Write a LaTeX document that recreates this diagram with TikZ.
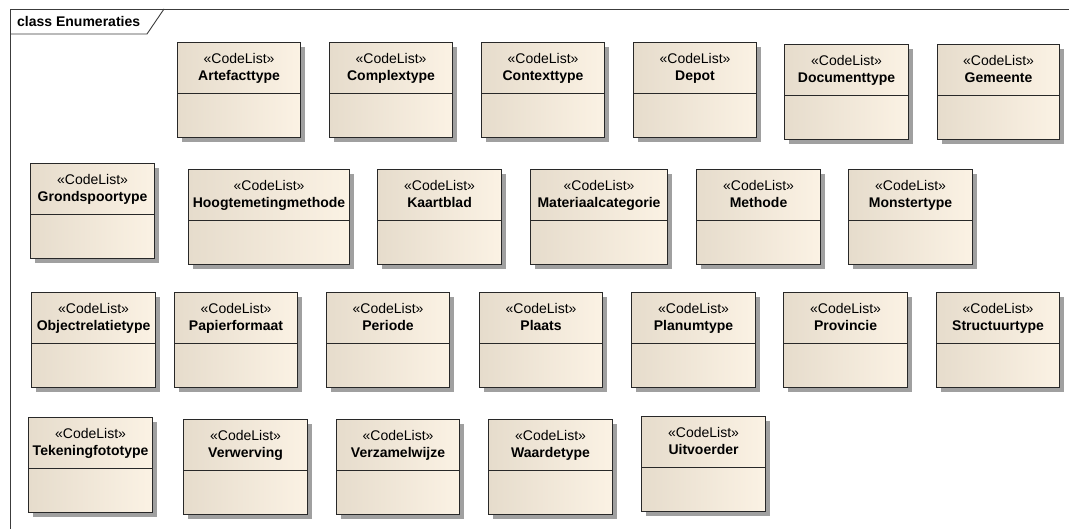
\documentclass[tikz,border=0pt]{standalone}
\usepackage{fontspec}
\setmainfont{Liberation Sans}
\usetikzlibrary{shadows,positioning}
\definecolor{boxline}{RGB}{40,40,40}
\definecolor{boxdark}{RGB}{230,220,204}
\definecolor{boxlight}{RGB}{251,242,228}
\definecolor{shadowgray}{RGB}{160,160,160}
\definecolor{frameline}{RGB}{60,60,60}
\begin{document}
\begin{tikzpicture}[
    x=1pt, y=-1pt,
    frame/.style={draw=frameline, line width=0.9pt},
    cls/.style={draw=boxline, line width=1.1pt, anchor=north west,
      left color=boxdark, middle color=boxlight, right color=boxlight,
      drop shadow={shadow xshift=4pt, shadow yshift=-4pt, fill=shadowgray, opacity=1},
      minimum width=123pt, inner sep=0pt, align=center,
      text height=38pt, text depth=57pt,
      font=\fontsize{14}{17}\selectfont,
      path picture={\draw[boxline, line width=1.1pt]
        ([yshift=-51pt]path picture bounding box.north west) --
        ([yshift=-51pt]path picture bounding box.north east);}},
   ]
\useasboundingbox (0,0) rectangle (1069,529);

% frame
\draw[frame] (1069,9) -- (10,9) -- (10,529);
\draw[frame] (10,34) -- (147,34) -- (164,9);
\node[anchor=base west, inner sep=0pt, font=\fontsize{14}{17}\selectfont\bfseries]
  (diagramtitle) at (17,27) {class Enumeraties};

% row 1
\node[cls] (artefacttype) at (177,42) {«CodeList»\\\textbf{Artefacttype}};
\node[cls] (complextype) at (329,42) {«CodeList»\\\textbf{Complextype}};
\node[cls] (contexttype) at (481,42) {«CodeList»\\\textbf{Contexttype}};
\node[cls] (depot) at (633,42) {«CodeList»\\\textbf{Depot}};
\node[cls, minimum width=124pt] (documenttype) at (784,44) {«CodeList»\\\textbf{Documenttype}};
\node[cls, minimum width=122pt] (gemeente) at (937,44) {«CodeList»\\\textbf{Gemeente}};

% row 2
\node[cls, minimum width=124pt] (grondspoortype) at (30,163) {«CodeList»\\\textbf{Grondspoortype}};
\node[cls, minimum width=161pt] (hoogtemetingmethode) at (188,169) {«CodeList»\\\textbf{Hoogtemetingmethode}};
\node[cls, minimum width=124pt] (kaartblad) at (377,169) {«CodeList»\\\textbf{Kaartblad}};
\node[cls, minimum width=137pt] (materiaalcategorie) at (530,169) {«CodeList»\\\textbf{Materiaalcategorie}};
\node[cls, minimum width=124pt] (methode) at (696,169) {«CodeList»\\\textbf{Methode}};
\node[cls, minimum width=124pt] (monstertype) at (848,169) {«CodeList»\\\textbf{Monstertype}};

% row 3
\node[cls, minimum width=124pt] (objectrelatietype) at (31,292) {«CodeList»\\\textbf{Objectrelatietype}};
\node[cls] (papierformaat) at (174,292) {«CodeList»\\\textbf{Papierformaat}};
\node[cls] (periode) at (326,292) {«CodeList»\\\textbf{Periode}};
\node[cls] (plaats) at (479,292) {«CodeList»\\\textbf{Plaats}};
\node[cls, minimum width=124pt] (planumtype) at (631,292) {«CodeList»\\\textbf{Planumtype}};
\node[cls, minimum width=124pt] (provincie) at (783,292) {«CodeList»\\\textbf{Provincie}};
\node[cls] (structuurtype) at (936,292) {«CodeList»\\\textbf{Structuurtype}};

% row 4
\node[cls, minimum width=124pt] (tekeningfototype) at (28,417) {«CodeList»\\\textbf{Tekeningfototype}};
\node[cls, minimum width=124pt] (verwerving) at (183,419) {«CodeList»\\\textbf{Verwerving}};
\node[cls] (verzamelwijze) at (336,419) {«CodeList»\\\textbf{Verzamelwijze}};
\node[cls, minimum width=124pt] (waardetype) at (488,419) {«CodeList»\\\textbf{Waardetype}};
\node[cls, minimum width=124pt] (uitvoerder) at (641,416) {«CodeList»\\\textbf{Uitvoerder}};

\end{tikzpicture}
\end{document}
